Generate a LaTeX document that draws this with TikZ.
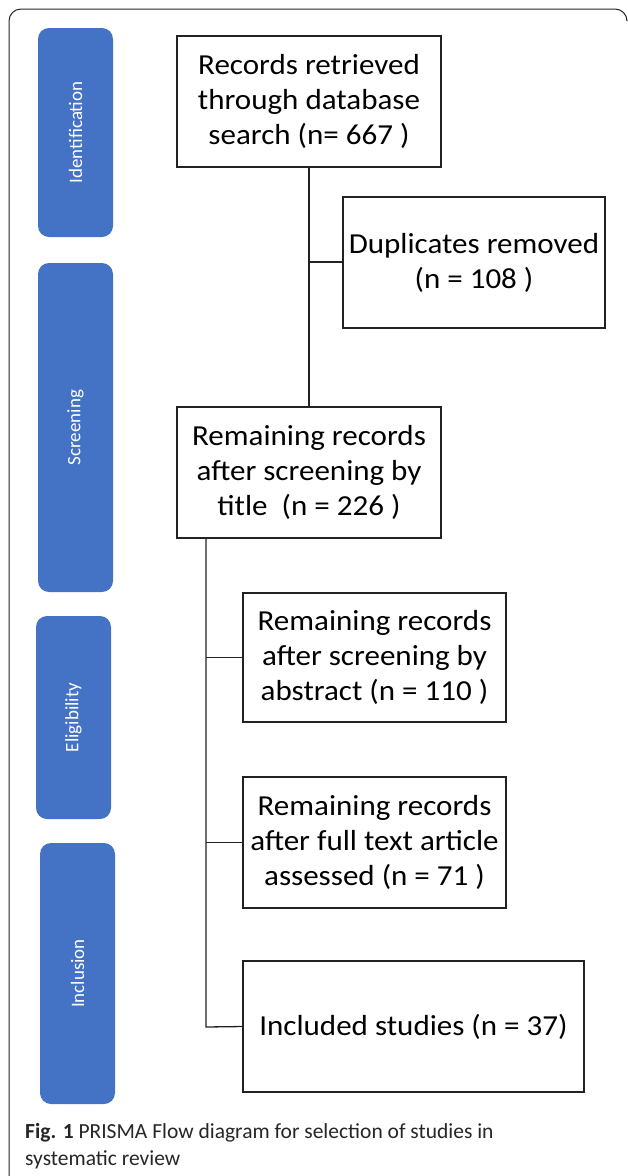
\documentclass[tikz,border=0pt]{standalone}
\usepackage{fontspec}
\setmainfont{Carlito}
\newfontfamily\boxfont[FakeStretch=1.07]{Carlito}
\definecolor{phaseblue}{HTML}{4472C4}
\definecolor{linegray}{HTML}{222222}
\begin{document}
\begin{tikzpicture}[x=1pt,y=-1pt,
  stage/.style={draw=linegray,line width=1.3pt,fill=white,align=center,
    font=\boxfont\fontsize{29}{35}\selectfont,inner sep=0pt,outer sep=0pt,anchor=north west},
  phase/.style={fill=phaseblue,draw=none,rounded corners=11pt,anchor=north west,inner sep=0pt,outer sep=0pt,
    minimum width=75pt},
  plabel/.style={text=white,rotate=90,font=\fontsize{19}{19}\selectfont},
  conn/.style={draw=linegray,line width=1.3pt},
  frame/.style={draw=black!85,line width=1pt}]
\useasboundingbox (0,0) rectangle (627,1176);
% outer frame
\draw[frame,rounded corners=12pt] (9,1180) -- (9,9) -- (627,9) -- (627,20);
% phase bars
\node[phase,minimum height=209pt] (pid) at (38,28) {};
\node[phase,minimum height=329pt] (pscr) at (38,263) {};
\node[phase,minimum height=203pt] (pel) at (36,616) {};
\node[phase,minimum height=261pt] (pinc) at (40,843) {};
\node[plabel] (lid) at (pid.center) {Identification};
\node[plabel] (lscr) at (pscr.center) {Screening};
\node[plabel] (lel) at (pel.center) {Eligibility};
\node[plabel] (linc) at (pinc.center) {Inclusion};
% stage boxes
\node[stage,minimum width=264pt,minimum height=131pt] (b1) at (177,36)
  {Records retrieved\\through database\\search (n= 667 )};
\node[stage,minimum width=262pt,minimum height=131pt] (b2) at (343,197)
  {Duplicates removed\\(n = 108 )};
\node[stage,minimum width=264pt,minimum height=131pt] (b3) at (177,407)
  {Remaining records\\after screening by\\title\ \ (n = 226 )};
\node[stage,minimum width=263pt,minimum height=129pt] (b4) at (243,593)
  {Remaining records\\after screening by\\abstract (n = 110 )};
\node[stage,minimum width=263pt,minimum height=131pt] (b5) at (243,777)
  {Remaining records\\after full text article\\assessed (n = 71 )};
\node[stage,minimum width=341pt,minimum height=131pt] (b6) at (243,961)
  {Included studies (n = 37)};
% connectors
\coordinate (t1) at (309,262);
\draw[conn] (b1.south -| t1) -- (b3.north -| t1);
\draw[conn] (t1) -- (t1 -| b2.west);
\coordinate (t2top) at (206,538);
\coordinate (t2bot) at (206,1027);
\draw[conn] (t2top) -- (t2bot) -- (b6.west);
\draw[conn] (t2top |- b4.west) -- (b4.west);
\draw[conn] (t2top |- b5.west) -- (b5.west);
% caption
\node[anchor=base west,inner sep=0pt,font=\fontsize{21.5}{27}\selectfont,align=left,text=black!85] (cap) at (25,1165)
  {\textbf{Fig. 1} PRISMA Flow diagram for selection of studies in\\systematic review};
\end{tikzpicture}
\end{document}
